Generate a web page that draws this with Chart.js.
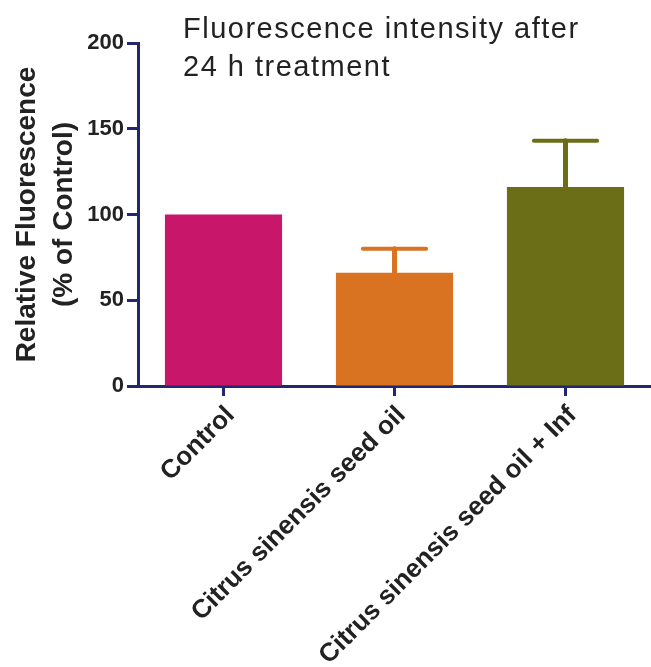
<!DOCTYPE html>
<html>
<head>
<meta charset="utf-8">
<script src="https://cdn.jsdelivr.net/npm/chart.js@4.4.1/dist/chart.umd.min.js"></script>
<style>
  html, body { margin: 0; padding: 0; background: #ffffff; overflow: hidden; }
  #wrap { position: relative; width: 651px; height: 667px; }
</style>
</head>
<body>
<div id="wrap"><canvas id="chart"></canvas></div>
<script>
const categories = ["Control", "Citrus sinensis seed oil", "Citrus sinensis seed oil + Inf"];
const meanValues = [100, 66, 116];
const errorValues = [0, 14, 27];
const barColors = ["#c8166b", "#d97322", "#6b6e17"];
const yTicks = [0, 50, 100, 150, 200];
const titleLines = ["Fluorescence intensity after", "24 h treatment"];
const yTitleLines = ["Relative Fluorescence", "(% of Control)"];

const AXIS_COLOR = "#23276f";
const TEXT_COLOR = "#222222";
const FONT = "'Liberation Sans', Arial, sans-serif";

// upper error bars only, drawn through the y scale
const errorBarPlugin = {
  id: "errorBars",
  afterDatasetsDraw(chart) {
    const { ctx, scales } = chart;
    const meta = chart.getDatasetMeta(0);
    meta.data.forEach((bar, i) => {
      if (!errorValues[i]) return;
      const x = bar.x;
      const yTop = scales.y.getPixelForValue(meanValues[i] + errorValues[i]);
      const yBar = scales.y.getPixelForValue(meanValues[i]);
      const capHalf = bar.width * 0.27;
      ctx.save();
      ctx.strokeStyle = barColors[i];
      ctx.lineCap = "round";
      ctx.lineWidth = 5;
      ctx.beginPath();
      ctx.moveTo(x, yBar);
      ctx.lineTo(x, yTop);
      ctx.stroke();
      ctx.lineWidth = 4;
      ctx.beginPath();
      ctx.moveTo(x - capHalf, yTop);
      ctx.lineTo(x + capHalf, yTop);
      ctx.stroke();
      ctx.restore();
    });
  },
};

// title sits inside the plot area, top left
const titlePlugin = {
  id: "insetTitle",
  afterDraw(chart) {
    const { ctx, chartArea } = chart;
    ctx.save();
    ctx.fillStyle = TEXT_COLOR;
    ctx.font = `29px ${FONT}`;
    ctx.textBaseline = "alphabetic";
    if ("letterSpacing" in ctx) ctx.letterSpacing = "1.5px";
    titleLines.forEach((line, i) => {
      ctx.fillText(line, chartArea.left + 45, 38 + i * 38);
    });
    ctx.restore();
  },
};

new Chart(document.getElementById("chart"), {
  type: "bar",
  data: {
    labels: categories,
    datasets: [
      {
        data: meanValues,
        backgroundColor: barColors,
        borderWidth: 0,
        categoryPercentage: 1,
        barPercentage: 0.685,
      },
    ],
  },
  options: {
    responsive: true,
    maintainAspectRatio: false,
    animation: false,
    layout: { padding: { top: 43, right: 0, left: 0, bottom: 0 } },
    plugins: {
      legend: { display: false },
      tooltip: { enabled: false },
    },
    scales: {
      x: {
        offset: true,
        grid: {
          offset: false,
          drawOnChartArea: false,
          drawTicks: true,
          tickLength: 10,
          tickColor: AXIS_COLOR,
          tickWidth: 3,
        },
        border: { color: AXIS_COLOR, width: 3 },
        ticks: {
          color: TEXT_COLOR,
          font: { family: FONT, size: 26, weight: "bold" },
          minRotation: 45,
          maxRotation: 45,
          padding: 4,
          labelOffset: 7,
          autoSkip: false,
        },
        afterFit(axis) {
          axis.height = 281;
        },
      },
      y: {
        min: 0,
        max: 200,
        afterBuildTicks(axis) {
          axis.ticks = yTicks.map((v) => ({ value: v }));
        },
        grid: {
          drawOnChartArea: false,
          drawTicks: true,
          tickLength: 11,
          tickColor: AXIS_COLOR,
          tickWidth: 3,
        },
        border: { color: AXIS_COLOR, width: 3 },
        ticks: {
          color: TEXT_COLOR,
          font: { family: FONT, size: 22, weight: "bold" },
          padding: 3,
        },
        title: {
          display: true,
          text: yTitleLines,
          color: TEXT_COLOR,
          font: { family: FONT, size: 28, weight: "bold", lineHeight: 1.32 },
          padding: { top: 9, bottom: 0 },
        },
        afterFit(axis) {
          axis.width = 138;
        },
      },
    },
  },
  plugins: [errorBarPlugin, titlePlugin],
});
</script>
</body>
</html>
